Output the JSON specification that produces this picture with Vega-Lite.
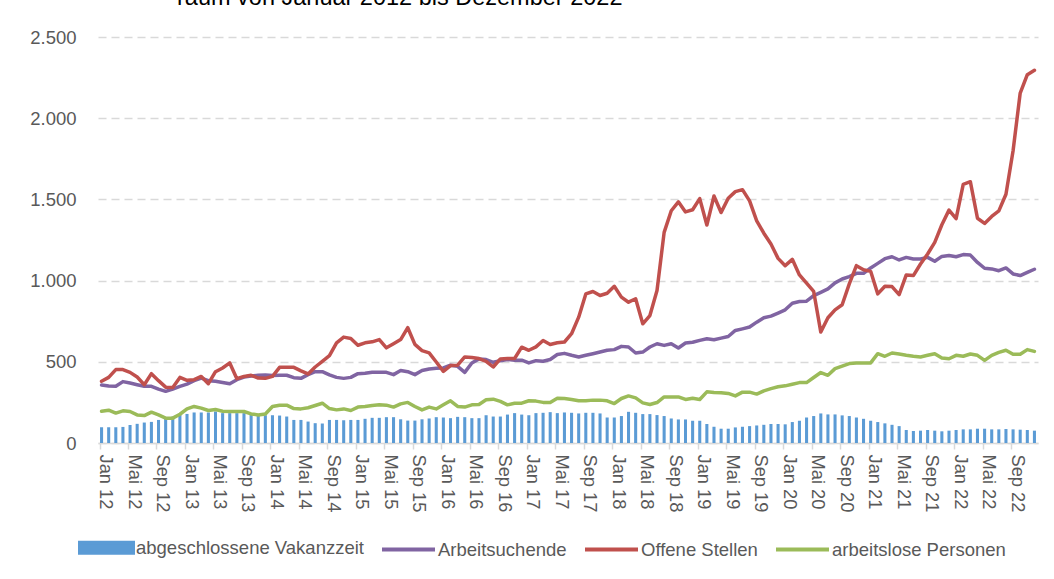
{
  "$schema": "https://vega.github.io/schema/vega-lite/v6.json",
  "width": 940,
  "height": 406,
  "autosize": {"type": "none"},
  "padding": {"left": 98, "top": 37, "right": 16, "bottom": 136},
  "background": "white",
  "config": {"font": "Liberation Sans", "view": {"stroke": null}},
  "title": {"text": "raum von Januar 2012 bis Dezember 2022", "anchor": "start", "frame": "group", "dx": 79, "offset": 0, "baseline": "alphabetic", "fontSize": 23.5, "fontWeight": "normal", "color": "#000000", "font": "Liberation Sans"},
  "datasets": {
    "werte": [
      {"Monat":"Jan 12","abgeschlossene Vakanzzeit":97,"Arbeitsuchende":357,"Offene Stellen":380,"arbeitslose Personen":196},
      {"Monat":"Feb 12","abgeschlossene Vakanzzeit":97,"Arbeitsuchende":351,"Offene Stellen":404,"arbeitslose Personen":202},
      {"Monat":"Mär 12","abgeschlossene Vakanzzeit":97,"Arbeitsuchende":349,"Offene Stellen":452,"arbeitslose Personen":184},
      {"Monat":"Apr 12","abgeschlossene Vakanzzeit":99,"Arbeitsuchende":378,"Offene Stellen":452,"arbeitslose Personen":198},
      {"Monat":"Mai 12","abgeschlossene Vakanzzeit":111,"Arbeitsuchende":369,"Offene Stellen":435,"arbeitslose Personen":194},
      {"Monat":"Jun 12","abgeschlossene Vakanzzeit":118,"Arbeitsuchende":359,"Offene Stellen":406,"arbeitslose Personen":173},
      {"Monat":"Jul 12","abgeschlossene Vakanzzeit":126,"Arbeitsuchende":349,"Offene Stellen":359,"arbeitslose Personen":169},
      {"Monat":"Aug 12","abgeschlossene Vakanzzeit":130,"Arbeitsuchende":349,"Offene Stellen":427,"arbeitslose Personen":190},
      {"Monat":"Sep 12","abgeschlossene Vakanzzeit":142,"Arbeitsuchende":332,"Offene Stellen":384,"arbeitslose Personen":173},
      {"Monat":"Okt 12","abgeschlossene Vakanzzeit":151,"Arbeitsuchende":318,"Offene Stellen":344,"arbeitslose Personen":153},
      {"Monat":"Nov 12","abgeschlossene Vakanzzeit":163,"Arbeitsuchende":332,"Offene Stellen":342,"arbeitslose Personen":153},
      {"Monat":"Dez 12","abgeschlossene Vakanzzeit":177,"Arbeitsuchende":349,"Offene Stellen":404,"arbeitslose Personen":177},
      {"Monat":"Jan 13","abgeschlossene Vakanzzeit":179,"Arbeitsuchende":363,"Offene Stellen":386,"arbeitslose Personen":210},
      {"Monat":"Feb 13","abgeschlossene Vakanzzeit":188,"Arbeitsuchende":384,"Offene Stellen":390,"arbeitslose Personen":225},
      {"Monat":"Mär 13","abgeschlossene Vakanzzeit":188,"Arbeitsuchende":400,"Offene Stellen":410,"arbeitslose Personen":215},
      {"Monat":"Apr 13","abgeschlossene Vakanzzeit":188,"Arbeitsuchende":384,"Offene Stellen":365,"arbeitslose Personen":200},
      {"Monat":"Mai 13","abgeschlossene Vakanzzeit":194,"Arbeitsuchende":380,"Offene Stellen":439,"arbeitslose Personen":206},
      {"Monat":"Jun 13","abgeschlossene Vakanzzeit":184,"Arbeitsuchende":373,"Offene Stellen":462,"arbeitslose Personen":196},
      {"Monat":"Jul 13","abgeschlossene Vakanzzeit":184,"Arbeitsuchende":365,"Offene Stellen":493,"arbeitslose Personen":194},
      {"Monat":"Aug 13","abgeschlossene Vakanzzeit":184,"Arbeitsuchende":390,"Offene Stellen":396,"arbeitslose Personen":194},
      {"Monat":"Sep 13","abgeschlossene Vakanzzeit":184,"Arbeitsuchende":406,"Offene Stellen":410,"arbeitslose Personen":194},
      {"Monat":"Okt 13","abgeschlossene Vakanzzeit":173,"Arbeitsuchende":413,"Offene Stellen":417,"arbeitslose Personen":179},
      {"Monat":"Nov 13","abgeschlossene Vakanzzeit":167,"Arbeitsuchende":417,"Offene Stellen":400,"arbeitslose Personen":173},
      {"Monat":"Dez 13","abgeschlossene Vakanzzeit":171,"Arbeitsuchende":419,"Offene Stellen":398,"arbeitslose Personen":179},
      {"Monat":"Jan 14","abgeschlossene Vakanzzeit":171,"Arbeitsuchende":415,"Offene Stellen":410,"arbeitslose Personen":225},
      {"Monat":"Feb 14","abgeschlossene Vakanzzeit":169,"Arbeitsuchende":417,"Offene Stellen":466,"arbeitslose Personen":233},
      {"Monat":"Mär 14","abgeschlossene Vakanzzeit":163,"Arbeitsuchende":417,"Offene Stellen":466,"arbeitslose Personen":233},
      {"Monat":"Apr 14","abgeschlossene Vakanzzeit":142,"Arbeitsuchende":402,"Offene Stellen":466,"arbeitslose Personen":212},
      {"Monat":"Mai 14","abgeschlossene Vakanzzeit":142,"Arbeitsuchende":398,"Offene Stellen":444,"arbeitslose Personen":210},
      {"Monat":"Jun 14","abgeschlossene Vakanzzeit":132,"Arbeitsuchende":421,"Offene Stellen":425,"arbeitslose Personen":217},
      {"Monat":"Jul 14","abgeschlossene Vakanzzeit":122,"Arbeitsuchende":439,"Offene Stellen":468,"arbeitslose Personen":231},
      {"Monat":"Aug 14","abgeschlossene Vakanzzeit":120,"Arbeitsuchende":439,"Offene Stellen":503,"arbeitslose Personen":245},
      {"Monat":"Sep 14","abgeschlossene Vakanzzeit":142,"Arbeitsuchende":419,"Offene Stellen":538,"arbeitslose Personen":212},
      {"Monat":"Okt 14","abgeschlossene Vakanzzeit":142,"Arbeitsuchende":404,"Offene Stellen":617,"arbeitslose Personen":204},
      {"Monat":"Nov 14","abgeschlossene Vakanzzeit":140,"Arbeitsuchende":398,"Offene Stellen":652,"arbeitslose Personen":210},
      {"Monat":"Dez 14","abgeschlossene Vakanzzeit":142,"Arbeitsuchende":404,"Offene Stellen":644,"arbeitslose Personen":200},
      {"Monat":"Jan 15","abgeschlossene Vakanzzeit":142,"Arbeitsuchende":427,"Offene Stellen":602,"arbeitslose Personen":221},
      {"Monat":"Feb 15","abgeschlossene Vakanzzeit":149,"Arbeitsuchende":429,"Offene Stellen":617,"arbeitslose Personen":225},
      {"Monat":"Mär 15","abgeschlossene Vakanzzeit":155,"Arbeitsuchende":435,"Offene Stellen":623,"arbeitslose Personen":231},
      {"Monat":"Apr 15","abgeschlossene Vakanzzeit":155,"Arbeitsuchende":435,"Offene Stellen":637,"arbeitslose Personen":235},
      {"Monat":"Mai 15","abgeschlossene Vakanzzeit":159,"Arbeitsuchende":435,"Offene Stellen":586,"arbeitslose Personen":233},
      {"Monat":"Jun 15","abgeschlossene Vakanzzeit":159,"Arbeitsuchende":421,"Offene Stellen":611,"arbeitslose Personen":221},
      {"Monat":"Jul 15","abgeschlossene Vakanzzeit":146,"Arbeitsuchende":446,"Offene Stellen":637,"arbeitslose Personen":241},
      {"Monat":"Aug 15","abgeschlossene Vakanzzeit":138,"Arbeitsuchende":439,"Offene Stellen":710,"arbeitslose Personen":250},
      {"Monat":"Sep 15","abgeschlossene Vakanzzeit":138,"Arbeitsuchende":421,"Offene Stellen":607,"arbeitslose Personen":225},
      {"Monat":"Okt 15","abgeschlossene Vakanzzeit":146,"Arbeitsuchende":446,"Offene Stellen":569,"arbeitslose Personen":204},
      {"Monat":"Nov 15","abgeschlossene Vakanzzeit":151,"Arbeitsuchende":456,"Offene Stellen":555,"arbeitslose Personen":221},
      {"Monat":"Dez 15","abgeschlossene Vakanzzeit":159,"Arbeitsuchende":460,"Offene Stellen":499,"arbeitslose Personen":210},
      {"Monat":"Jan 16","abgeschlossene Vakanzzeit":157,"Arbeitsuchende":462,"Offene Stellen":441,"arbeitslose Personen":235},
      {"Monat":"Feb 16","abgeschlossene Vakanzzeit":153,"Arbeitsuchende":479,"Offene Stellen":477,"arbeitslose Personen":260},
      {"Monat":"Mär 16","abgeschlossene Vakanzzeit":161,"Arbeitsuchende":472,"Offene Stellen":479,"arbeitslose Personen":225},
      {"Monat":"Apr 16","abgeschlossene Vakanzzeit":159,"Arbeitsuchende":435,"Offene Stellen":530,"arbeitslose Personen":221},
      {"Monat":"Mai 16","abgeschlossene Vakanzzeit":153,"Arbeitsuchende":493,"Offene Stellen":526,"arbeitslose Personen":235},
      {"Monat":"Jun 16","abgeschlossene Vakanzzeit":153,"Arbeitsuchende":518,"Offene Stellen":520,"arbeitslose Personen":237},
      {"Monat":"Jul 16","abgeschlossene Vakanzzeit":171,"Arbeitsuchende":514,"Offene Stellen":503,"arbeitslose Personen":266},
      {"Monat":"Aug 16","abgeschlossene Vakanzzeit":163,"Arbeitsuchende":497,"Offene Stellen":468,"arbeitslose Personen":270},
      {"Monat":"Sep 16","abgeschlossene Vakanzzeit":163,"Arbeitsuchende":507,"Offene Stellen":518,"arbeitslose Personen":256},
      {"Monat":"Okt 16","abgeschlossene Vakanzzeit":175,"Arbeitsuchende":514,"Offene Stellen":520,"arbeitslose Personen":235},
      {"Monat":"Nov 16","abgeschlossene Vakanzzeit":184,"Arbeitsuchende":510,"Offene Stellen":520,"arbeitslose Personen":245},
      {"Monat":"Dez 16","abgeschlossene Vakanzzeit":175,"Arbeitsuchende":510,"Offene Stellen":590,"arbeitslose Personen":245},
      {"Monat":"Jan 17","abgeschlossene Vakanzzeit":171,"Arbeitsuchende":493,"Offene Stellen":571,"arbeitslose Personen":260},
      {"Monat":"Feb 17","abgeschlossene Vakanzzeit":184,"Arbeitsuchende":507,"Offene Stellen":592,"arbeitslose Personen":258},
      {"Monat":"Mär 17","abgeschlossene Vakanzzeit":186,"Arbeitsuchende":503,"Offene Stellen":631,"arbeitslose Personen":250},
      {"Monat":"Apr 17","abgeschlossene Vakanzzeit":190,"Arbeitsuchende":514,"Offene Stellen":607,"arbeitslose Personen":250},
      {"Monat":"Mai 17","abgeschlossene Vakanzzeit":184,"Arbeitsuchende":545,"Offene Stellen":617,"arbeitslose Personen":276},
      {"Monat":"Jun 17","abgeschlossene Vakanzzeit":188,"Arbeitsuchende":552,"Offene Stellen":622,"arbeitslose Personen":274},
      {"Monat":"Jul 17","abgeschlossene Vakanzzeit":186,"Arbeitsuchende":540,"Offene Stellen":673,"arbeitslose Personen":268},
      {"Monat":"Aug 17","abgeschlossene Vakanzzeit":182,"Arbeitsuchende":530,"Offene Stellen":775,"arbeitslose Personen":260},
      {"Monat":"Sep 17","abgeschlossene Vakanzzeit":186,"Arbeitsuchende":540,"Offene Stellen":918,"arbeitslose Personen":260},
      {"Monat":"Okt 17","abgeschlossene Vakanzzeit":186,"Arbeitsuchende":550,"Offene Stellen":933,"arbeitslose Personen":264},
      {"Monat":"Nov 17","abgeschlossene Vakanzzeit":182,"Arbeitsuchende":560,"Offene Stellen":908,"arbeitslose Personen":264},
      {"Monat":"Dez 17","abgeschlossene Vakanzzeit":157,"Arbeitsuchende":571,"Offene Stellen":922,"arbeitslose Personen":260},
      {"Monat":"Jan 18","abgeschlossene Vakanzzeit":157,"Arbeitsuchende":575,"Offene Stellen":965,"arbeitslose Personen":243},
      {"Monat":"Feb 18","abgeschlossene Vakanzzeit":166,"Arbeitsuchende":595,"Offene Stellen":898,"arbeitslose Personen":274},
      {"Monat":"Mär 18","abgeschlossene Vakanzzeit":192,"Arbeitsuchende":591,"Offene Stellen":867,"arbeitslose Personen":290},
      {"Monat":"Apr 18","abgeschlossene Vakanzzeit":186,"Arbeitsuchende":554,"Offene Stellen":888,"arbeitslose Personen":278},
      {"Monat":"Mai 18","abgeschlossene Vakanzzeit":178,"Arbeitsuchende":560,"Offene Stellen":734,"arbeitslose Personen":247},
      {"Monat":"Jun 18","abgeschlossene Vakanzzeit":178,"Arbeitsuchende":591,"Offene Stellen":785,"arbeitslose Personen":237},
      {"Monat":"Jul 18","abgeschlossene Vakanzzeit":172,"Arbeitsuchende":611,"Offene Stellen":939,"arbeitslose Personen":249},
      {"Monat":"Aug 18","abgeschlossene Vakanzzeit":166,"Arbeitsuchende":601,"Offene Stellen":1297,"arbeitslose Personen":284},
      {"Monat":"Sep 18","abgeschlossene Vakanzzeit":151,"Arbeitsuchende":611,"Offene Stellen":1430,"arbeitslose Personen":284},
      {"Monat":"Okt 18","abgeschlossene Vakanzzeit":145,"Arbeitsuchende":585,"Offene Stellen":1485,"arbeitslose Personen":284},
      {"Monat":"Nov 18","abgeschlossene Vakanzzeit":145,"Arbeitsuchende":616,"Offene Stellen":1423,"arbeitslose Personen":268},
      {"Monat":"Dez 18","abgeschlossene Vakanzzeit":137,"Arbeitsuchende":620,"Offene Stellen":1436,"arbeitslose Personen":276},
      {"Monat":"Jan 19","abgeschlossene Vakanzzeit":137,"Arbeitsuchende":632,"Offene Stellen":1505,"arbeitslose Personen":268},
      {"Monat":"Feb 19","abgeschlossene Vakanzzeit":117,"Arbeitsuchende":642,"Offene Stellen":1342,"arbeitslose Personen":315},
      {"Monat":"Mär 19","abgeschlossene Vakanzzeit":100,"Arbeitsuchende":636,"Offene Stellen":1521,"arbeitslose Personen":311},
      {"Monat":"Apr 19","abgeschlossene Vakanzzeit":88,"Arbeitsuchende":646,"Offene Stellen":1419,"arbeitslose Personen":309},
      {"Monat":"Mai 19","abgeschlossene Vakanzzeit":88,"Arbeitsuchende":656,"Offene Stellen":1507,"arbeitslose Personen":305},
      {"Monat":"Jun 19","abgeschlossene Vakanzzeit":96,"Arbeitsuchende":693,"Offene Stellen":1548,"arbeitslose Personen":290},
      {"Monat":"Jul 19","abgeschlossene Vakanzzeit":100,"Arbeitsuchende":703,"Offene Stellen":1560,"arbeitslose Personen":313},
      {"Monat":"Aug 19","abgeschlossene Vakanzzeit":104,"Arbeitsuchende":714,"Offene Stellen":1491,"arbeitslose Personen":313},
      {"Monat":"Sep 19","abgeschlossene Vakanzzeit":108,"Arbeitsuchende":744,"Offene Stellen":1368,"arbeitslose Personen":301},
      {"Monat":"Okt 19","abgeschlossene Vakanzzeit":112,"Arbeitsuchende":771,"Offene Stellen":1292,"arbeitslose Personen":321},
      {"Monat":"Nov 19","abgeschlossene Vakanzzeit":117,"Arbeitsuchende":781,"Offene Stellen":1225,"arbeitslose Personen":335},
      {"Monat":"Dez 19","abgeschlossene Vakanzzeit":117,"Arbeitsuchende":800,"Offene Stellen":1137,"arbeitslose Personen":346},
      {"Monat":"Jan 20","abgeschlossene Vakanzzeit":115,"Arbeitsuchende":820,"Offene Stellen":1092,"arbeitslose Personen":352},
      {"Monat":"Feb 20","abgeschlossene Vakanzzeit":129,"Arbeitsuchende":861,"Offene Stellen":1131,"arbeitslose Personen":362},
      {"Monat":"Mär 20","abgeschlossene Vakanzzeit":137,"Arbeitsuchende":871,"Offene Stellen":1035,"arbeitslose Personen":372},
      {"Monat":"Apr 20","abgeschlossene Vakanzzeit":157,"Arbeitsuchende":873,"Offene Stellen":984,"arbeitslose Personen":372},
      {"Monat":"Mai 20","abgeschlossene Vakanzzeit":166,"Arbeitsuchende":908,"Offene Stellen":933,"arbeitslose Personen":403},
      {"Monat":"Jun 20","abgeschlossene Vakanzzeit":182,"Arbeitsuchende":928,"Offene Stellen":683,"arbeitslose Personen":434},
      {"Monat":"Jul 20","abgeschlossene Vakanzzeit":176,"Arbeitsuchende":949,"Offene Stellen":771,"arbeitslose Personen":417},
      {"Monat":"Aug 20","abgeschlossene Vakanzzeit":176,"Arbeitsuchende":986,"Offene Stellen":820,"arbeitslose Personen":458},
      {"Monat":"Sep 20","abgeschlossene Vakanzzeit":170,"Arbeitsuchende":1010,"Offene Stellen":851,"arbeitslose Personen":474},
      {"Monat":"Okt 20","abgeschlossene Vakanzzeit":166,"Arbeitsuchende":1025,"Offene Stellen":980,"arbeitslose Personen":489},
      {"Monat":"Nov 20","abgeschlossene Vakanzzeit":157,"Arbeitsuchende":1045,"Offene Stellen":1092,"arbeitslose Personen":493},
      {"Monat":"Dez 20","abgeschlossene Vakanzzeit":149,"Arbeitsuchende":1045,"Offene Stellen":1067,"arbeitslose Personen":493},
      {"Monat":"Jan 21","abgeschlossene Vakanzzeit":137,"Arbeitsuchende":1078,"Offene Stellen":1057,"arbeitslose Personen":493},
      {"Monat":"Feb 21","abgeschlossene Vakanzzeit":129,"Arbeitsuchende":1106,"Offene Stellen":918,"arbeitslose Personen":550},
      {"Monat":"Mär 21","abgeschlossene Vakanzzeit":121,"Arbeitsuchende":1135,"Offene Stellen":965,"arbeitslose Personen":534},
      {"Monat":"Apr 21","abgeschlossene Vakanzzeit":112,"Arbeitsuchende":1147,"Offene Stellen":963,"arbeitslose Personen":554},
      {"Monat":"Mai 21","abgeschlossene Vakanzzeit":104,"Arbeitsuchende":1127,"Offene Stellen":914,"arbeitslose Personen":548},
      {"Monat":"Jun 21","abgeschlossene Vakanzzeit":80,"Arbeitsuchende":1143,"Offene Stellen":1035,"arbeitslose Personen":540},
      {"Monat":"Jul 21","abgeschlossene Vakanzzeit":74,"Arbeitsuchende":1133,"Offene Stellen":1031,"arbeitslose Personen":534},
      {"Monat":"Aug 21","abgeschlossene Vakanzzeit":76,"Arbeitsuchende":1133,"Offene Stellen":1102,"arbeitslose Personen":530},
      {"Monat":"Sep 21","abgeschlossene Vakanzzeit":80,"Arbeitsuchende":1143,"Offene Stellen":1164,"arbeitslose Personen":540},
      {"Monat":"Okt 21","abgeschlossene Vakanzzeit":76,"Arbeitsuchende":1119,"Offene Stellen":1235,"arbeitslose Personen":550},
      {"Monat":"Nov 21","abgeschlossene Vakanzzeit":72,"Arbeitsuchende":1149,"Offene Stellen":1344,"arbeitslose Personen":524},
      {"Monat":"Dez 21","abgeschlossene Vakanzzeit":76,"Arbeitsuchende":1155,"Offene Stellen":1434,"arbeitslose Personen":519},
      {"Monat":"Jan 22","abgeschlossene Vakanzzeit":80,"Arbeitsuchende":1147,"Offene Stellen":1382,"arbeitslose Personen":540},
      {"Monat":"Feb 22","abgeschlossene Vakanzzeit":84,"Arbeitsuchende":1160,"Offene Stellen":1593,"arbeitslose Personen":534},
      {"Monat":"Mär 22","abgeschlossene Vakanzzeit":84,"Arbeitsuchende":1157,"Offene Stellen":1609,"arbeitslose Personen":548},
      {"Monat":"Apr 22","abgeschlossene Vakanzzeit":88,"Arbeitsuchende":1112,"Offene Stellen":1384,"arbeitslose Personen":540},
      {"Monat":"Mai 22","abgeschlossene Vakanzzeit":88,"Arbeitsuchende":1076,"Offene Stellen":1352,"arbeitslose Personen":509},
      {"Monat":"Jun 22","abgeschlossene Vakanzzeit":84,"Arbeitsuchende":1072,"Offene Stellen":1395,"arbeitslose Personen":540},
      {"Monat":"Jul 22","abgeschlossene Vakanzzeit":84,"Arbeitsuchende":1061,"Offene Stellen":1429,"arbeitslose Personen":558},
      {"Monat":"Aug 22","abgeschlossene Vakanzzeit":86,"Arbeitsuchende":1078,"Offene Stellen":1532,"arbeitslose Personen":571},
      {"Monat":"Sep 22","abgeschlossene Vakanzzeit":84,"Arbeitsuchende":1041,"Offene Stellen":1800,"arbeitslose Personen":546},
      {"Monat":"Okt 22","abgeschlossene Vakanzzeit":82,"Arbeitsuchende":1031,"Offene Stellen":2155,"arbeitslose Personen":546},
      {"Monat":"Nov 22","abgeschlossene Vakanzzeit":80,"Arbeitsuchende":1051,"Offene Stellen":2268,"arbeitslose Personen":575},
      {"Monat":"Dez 22","abgeschlossene Vakanzzeit":76,"Arbeitsuchende":1070,"Offene Stellen":2295,"arbeitslose Personen":564}
    ]
  },
  "data": {"name": "werte"},
  "transform": [
    {"fold": ["abgeschlossene Vakanzzeit", "Arbeitsuchende", "Offene Stellen", "arbeitslose Personen"], "as": ["Reihe", "Wert"]}
  ],
  "encoding": {
    "x": {
      "field": "Monat",
      "type": "ordinal",
      "sort": null,
      "scale": {"paddingInner": 0.57, "paddingOuter": 0.285},
      "axis": {
        "title": null,
        "values": ["Jan 12","Mai 12","Sep 12","Jan 13","Mai 13","Sep 13","Jan 14","Mai 14","Sep 14","Jan 15","Mai 15","Sep 15","Jan 16","Mai 16","Sep 16","Jan 17","Mai 17","Sep 17","Jan 18","Mai 18","Sep 18","Jan 19","Mai 19","Sep 19","Jan 20","Mai 20","Sep 20","Jan 21","Mai 21","Sep 21","Jan 22","Mai 22","Sep 22"],
        "bandPosition": 0,
        "labelOffset": 3.5,
        "labelAngle": 90,
        "labelAlign": "left",
        "labelBaseline": "middle",
        "labelFontSize": 18.3,
        "labelColor": "#595959",
        "labelFont": "Liberation Sans",
        "labelPadding": 5,
        "labelOverlap": false,
        "tickSize": 6,
        "tickColor": "#D9D9D9",
        "tickWidth": 1.5,
        "domainColor": "#D9D9D9",
        "domainWidth": 1.5,
        "grid": false
      }
    },
    "y": {
      "field": "Wert",
      "type": "quantitative",
      "scale": {"domain": [0, 2500], "nice": false},
      "axis": {
        "title": null,
        "values": [0, 500, 1000, 1500, 2000, 2500],
        "labelExpr": "replace(format(datum.value, ','), ',', '.')",
        "domain": false,
        "ticks": false,
        "labelFontSize": 18.5,
        "labelColor": "#595959",
        "labelFont": "Liberation Sans",
        "labelPadding": 22,
        "grid": true,
        "gridColor": "#D9D9D9",
        "gridDash": [8, 5],
        "gridWidth": 1.5
      }
    },
    "color": {
      "field": "Reihe",
      "type": "nominal",
      "scale": {
        "domain": ["abgeschlossene Vakanzzeit", "Arbeitsuchende", "Offene Stellen", "arbeitslose Personen"],
        "range": ["#5B9BD5", "#8064A2", "#C0504D", "#9BBB59"]
      },
      "legend": {
        "orient": "none",
        "legendX": -20,
        "legendY": 482,
        "direction": "horizontal",
        "columns": 4,
        "title": null,
        "padding": 0,
        "symbolSize": 2809,
        "symbolStrokeWidth": 4,
        "labelFontSize": 18.5,
        "labelColor": "#595959",
        "labelFont": "Liberation Sans",
        "labelLimit": 0,
        "labelOffset": 1,
        "columnPadding": 10,
        "encode": {
          "symbols": {
            "update": {
              "shape": {"signal": "datum.value === 'abgeschlossene Vakanzzeit' ? 'M-1,-0.19H1V0.19H-1Z' : 'stroke'"},
              "fill": {"signal": "datum.value === 'abgeschlossene Vakanzzeit' ? '#5B9BD5' : 'transparent'"},
              "stroke": {"signal": "datum.value === 'abgeschlossene Vakanzzeit' ? 'transparent' : (datum.value === 'Arbeitsuchende' ? '#8064A2' : (datum.value === 'Offene Stellen' ? '#C0504D' : '#9BBB59'))"},
              "strokeWidth": {"value": 4},
              "opacity": {"value": 1}
            }
          }
        }
      }
    }
  },
  "layer": [
    {
      "transform": [{"filter": "datum.Reihe === 'abgeschlossene Vakanzzeit'"}],
      "mark": {"type": "bar"}
    },
    {
      "transform": [{"filter": "datum.Reihe !== 'abgeschlossene Vakanzzeit'"}],
      "mark": {"type": "line", "strokeWidth": 3.5, "strokeJoin": "round", "strokeCap": "round"}
    }
  ]
}
